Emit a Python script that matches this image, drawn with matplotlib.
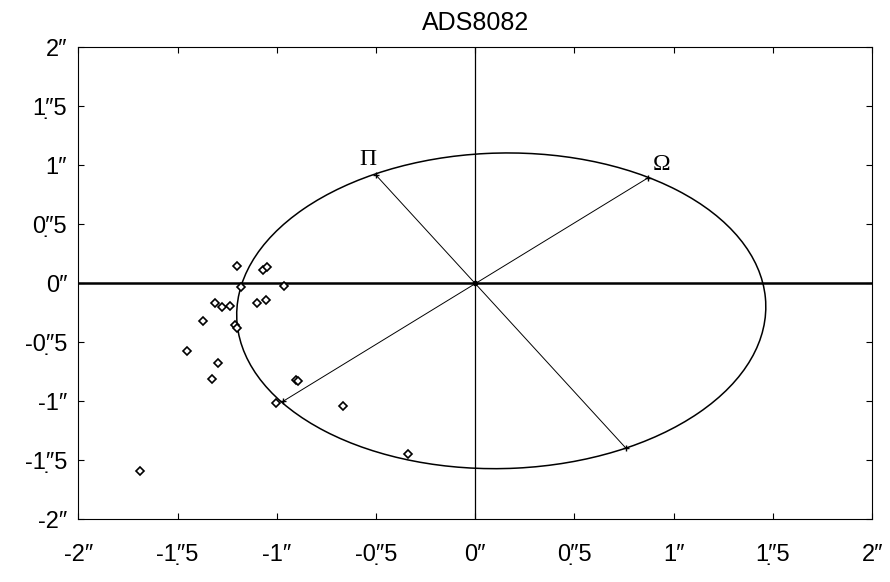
import numpy as np
import matplotlib.pyplot as plt
from matplotlib.patches import Ellipse

plt.rcParams['font.family'] = ['Liberation Sans', 'DejaVu Sans']

# observed positions (arcsec)
obs_x = [-1.202, -1.068, -1.051, -1.179, -0.965, -1.309, -1.278, -1.238, -1.098, -1.056,
         -1.372, -1.213, -1.198, -1.452, -1.298, -1.327, -0.905, -0.895, -1.005, -0.666,
         -0.337, -1.688]
obs_y = [0.149, 0.109, 0.138, -0.036, -0.026, -0.168, -0.203, -0.190, -0.172, -0.146,
         -0.323, -0.351, -0.382, -0.574, -0.675, -0.816, -0.818, -0.830, -1.013, -1.038,
         -1.446, -1.589]

# apparent orbit
orbit_center = (0.131, -0.2345)
orbit_width = 2.705
orbit_height = 2.636
orbit_angle = 49.0

# periastron / apastron and line of nodes
aps_x = [-0.50, 0.76]
aps_y = [0.915, -1.40]
node_x = [0.87, -0.97]
node_y = [0.892, -1.003]

ticks = [-2, -1.5, -1, -0.5, 0, 0.5, 1, 1.5, 2]


def fmt(v):
    s = "%g" % v
    if "." in s:
        a, b = s.split(".")
        return a + "\u2033\u0323" + b
    return s + "\u2033"


fig = plt.figure(figsize=(8.9, 5.82), dpi=100)
ax = fig.add_axes([0.088, 0.108, 0.892, 0.811])

ax.axhline(0, color='black', lw=1.8)
ax.axvline(0, color='black', lw=0.9)

ell = Ellipse(orbit_center, orbit_width, orbit_height, angle=orbit_angle,
              fill=False, edgecolor='black', lw=1.1)
ax.add_patch(ell)

ax.plot(aps_x, aps_y, color='black', lw=0.7)
ax.plot(node_x, node_y, color='black', lw=0.7)
ax.plot(aps_x + node_x, aps_y + node_y, '+', color='black', ms=5, mew=1)
ax.plot([0], [0], 'o', color='black', ms=3)

ax.plot(obs_x, obs_y, 'D', ms=4.3, mfc='white', mec='black', mew=1.2, ls='none')

ax.text(-0.541, 1.048, "\u03a0", family=['Liberation Serif', 'DejaVu Serif'],
        fontsize=17, ha='center', va='center')
ax.text(0.941, 1.006, "\u03a9", family=['Liberation Serif', 'DejaVu Serif'],
        fontsize=17, ha='center', va='center')

ax.set_xlim(-2, 2)
ax.set_ylim(-2, 2)
ax.set_xticks(ticks)
ax.set_yticks(ticks)
ax.set_xticklabels([fmt(t) for t in ticks])
ax.set_yticklabels([fmt(t) for t in ticks])
ax.tick_params(direction='in', length=4, top=True, right=True, labelsize=17)
ax.tick_params(axis='x', pad=18)
ax.tick_params(axis='y', pad=8)
ax.set_title("ADS8082", fontsize=18, pad=12)

plt.savefig("out.png", dpi=100)
